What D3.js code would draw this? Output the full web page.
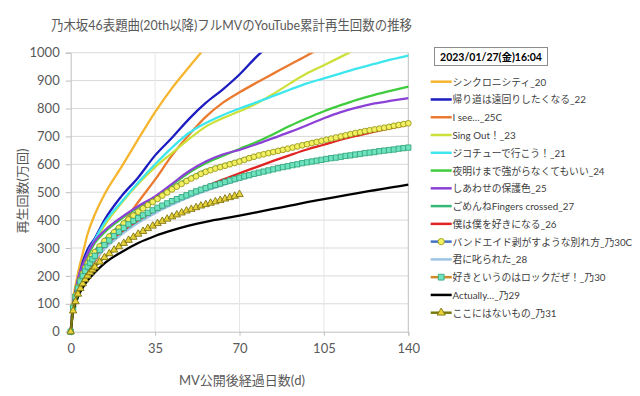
<!DOCTYPE html>
<html><head><meta charset="utf-8">
<script src="https://cdn.jsdelivr.net/npm/d3@7"></script>
<style>
body{margin:0;background:#fff;}
text{font-family:"Lato","Noto Sans CJK JP",sans-serif;}
</style></head>
<body><svg id="c" width="640" height="396"></svg>
<script>
// ---------- data ----------
const chartTitle = "乃木坂46表題曲(20th以降)フルMVのYouTube累計再生回数の推移";
const dateLabel = "2023/01/27(金)16:04";
const xTitle = "MV公開後経過日数(d)";
const yTitle = "再生回数(万回)";
const xTicks = [0, 35, 70, 105, 140];
const yTicks = [0,100,200,300,400,500,600,700,800,900,1000];

const days = [0,1,2,3,5,7,10,14,21,28,35,42,49,56,63,70,77,84,91,98,105,112,119,126,133,140];
const fineDays = [0,1,2,3,4,5,6,7,8,9,10,12,14,16,18,20,22,24,26,28,30,32,34,36,38,40,42,44,46,48,50,52,54,56,58,60,62,64,66,68,70,72,74,76,78,80,82,84,86,88,90,92,94,96,98,100,102,104,106,108,110,112,114,116,118,120,122,124,126,128,130,132,134,136,138,140];

const seriesNames = ["シンクロニシティ_20","帰り道は遠回りしたくなる_22","I see…_25C","Sing Out！_23","ジコチューで行こう！_21","夜明けまで強がらなくてもいい_24","しあわせの保護色_25","ごめんねFingers crossed_27","僕は僕を好きになる_26","バンドエイド剥がすような別れ方_乃30C","君に叱られた_28","好きというのはロックだぜ！_乃30","Actually…_乃29","ここにはないもの_乃31"];

const sync20     = [0,115,165,210,280,350,420,492,590,690,787,873,948,1020];
const kaeri22    = [0,100,145,180,250,295,335,400,485,553,632,695,762,820,868,922,985,1040];
const isee25C    = [0,70,105,130,170,205,250,300,380,465,545,632,705,770,820,858,892,925,958,990,1025];
const singout23  = [0,90,135,170,225,270,320,380,460,530,590,640,690,735,765,790,818,852,890,926,955,985,1015];
const jiko21     = [0,95,140,175,235,280,330,390,465,535,600,660,712,748,776,800,822,845,868,890,908,926,944,960,976,990];
const yoake24    = [0,95,140,182,232,272,318,356,405,446,482,526,570,604,630,655,680,708,738,765,790,812,832,849,864,878];
const shiawase25 = [0,100,145,190,240,280,325,362,410,450,485,530,575,610,635,652,672,694,716,740,765,787,804,818,828,837];
const fingers27  = [0,92,134,166,214,250,290,330,386,436,476,516,551,579,598,616,634,647,661,676,690,704,717,729,740,751];
const boku26     = [0,85,125,155,195,228,265,305,355,395,430,462,492,520,545,568,590,612,633,653,670,688,703,717,730,742];
const kimini28   = [0,80,118,148,190,222,258,296,348,390,425,455,482,505,525,544,562,578,592,605,616,627,636,644,651,657];
const actually29 = [0,72,102,125,158,183,212,245,285,318,343,363,380,394,405,416,428,440,452,464,475,486,497,507,517,527];

const bandaid30C = [0,90,130,160,185,208,228,245,260,273,285,306,325,341,356,372,388,402,416,430,442,454,465,476,488,499,510,520,530,540,549,557,566,573,579,585,590,595,600,605,610,616,622,627,632,636,640,644,648,652,656,660,664,668,672,676,680,684,688,692,696,700,704,708,712,715,719,722,725,728,731,734,738,741,744,747];
const rock30     = [0,85,125,155,180,200,218,233,247,260,272,293,311,327,343,358,372,385,397,407,417,426,435,444,452,460,468,475,482,489,496,503,509,515,521,526,531,537,542,547,552,557,561,566,570,574,578,582,586,590,593,597,600,604,607,610,613,616,619,622,624,627,630,632,635,637,640,642,644,647,649,651,653,656,658,660];
const koko31     = [0,75,108,135,155,172,187,200,212,222,232,250,266,280,293,305,317,328,339,350,360,370,379,388,396,404,412,419,426,433,439,445,451,456,461,466,471,476,481,486,492];

const lineColors = ["#F5B52E","#1C1CC0","#EA7A30","#CDE03A","#3EE6EE","#3ECC3E","#8C42D6","#35B878","#E02424","#4472C4","#9DC3E6","#D08A2A","#000000","#7A7A10"];

// ---------- build ----------
const seriesData = [
  {v:sync20, d:days}, {v:kaeri22, d:days}, {v:isee25C, d:days}, {v:singout23, d:days},
  {v:jiko21, d:days}, {v:yoake24, d:days}, {v:shiawase25, d:days}, {v:fingers27, d:days},
  {v:boku26, d:days}, {v:bandaid30C, d:fineDays, m:"circle"}, {v:kimini28, d:days},
  {v:rock30, d:fineDays, m:"square"}, {v:actually29, d:days}, {v:koko31, d:fineDays, m:"triangle"}
].map((s,i)=>({name:seriesNames[i], color:lineColors[i], marker:s.m,
   pts:s.v.map((val,j)=>({x:s.d[j], y:val}))}));

const markerStyle = {
  circle:  {type:d3.symbolCircle,  size:26, fill:"#F2F060", stroke:"#9A9A1E"},
  square:  {type:d3.symbolSquare,  size:28, fill:"#6FE2C0", stroke:"#35A87E"},
  triangle:{type:d3.symbolTriangle,size:24, fill:"#E8D23A", stroke:"#7F7410"}
};

const svg = d3.select("#c");
const x = d3.scaleLinear().domain([0,140]).range([70.7,408.3]);
const y = d3.scaleLinear().domain([0,1000]).range([331.7,52.7]);

// title
svg.append("text").attr("x",51).attr("y",25).attr("dominant-baseline","central")
  .attr("font-size",13.2).attr("fill","#595959")
  .attr("textLength",361).attr("lengthAdjust","spacingAndGlyphs").text(chartTitle);

// grid
const g = svg.append("g");
g.selectAll(".hg").data(yTicks.filter(t=>t>0)).join("line")
  .attr("x1",x(0)).attr("x2",x(140)).attr("y1",d=>y(d)).attr("y2",d=>y(d))
  .attr("stroke","#D9D9D9").attr("stroke-width",1);
g.selectAll(".vg").data(xTicks.filter(t=>t>0)).join("line")
  .attr("x1",d=>x(d)).attr("x2",d=>x(d)).attr("y1",y(0)).attr("y2",y(1000))
  .attr("stroke",(d)=>d===140?"#BFBFBF":"#E6E6E6").attr("stroke-width",1);

// axes
const yAxis = svg.append("g").attr("transform",`translate(${x(0)},0)`)
  .call(d3.axisLeft(y).tickValues(yTicks).tickFormat(d3.format("d")).tickSize(5).tickPadding(6));
const xAxis = svg.append("g").attr("transform",`translate(0,${y(0)})`)
  .call(d3.axisBottom(x).tickValues(xTicks).tickFormat(d3.format("d")).tickSize(4).tickPadding(8.5));
[yAxis,xAxis].forEach(a=>{
  a.select(".domain").attr("stroke","#BFBFBF");
  a.selectAll(".tick line").attr("stroke","#BFBFBF");
  a.selectAll("text").attr("font-size",13).attr("fill","#595959")
   .style("font-family","Lato,'Noto Sans CJK JP',sans-serif");
});
xAxis.selectAll(".tick").filter(d=>d===0).select("line").remove();

// axis titles
svg.append("text").attr("x",242).attr("y",380).attr("text-anchor","middle")
  .attr("dominant-baseline","central").attr("font-size",13).attr("fill","#595959").text(xTitle);
svg.append("text").attr("transform","translate(22,191) rotate(-90)").attr("text-anchor","middle")
  .attr("dominant-baseline","central").attr("font-size",13).attr("fill","#595959").text(yTitle);

// clip
svg.append("defs").append("clipPath").attr("id","pc").append("rect")
  .attr("x",x(0)-4).attr("y",y(1000)).attr("width",x(140)-x(0)+10).attr("height",y(0)-y(1000)+6);

const plot = svg.append("g").attr("clip-path","url(#pc)");
const line = d3.line().x(d=>x(d.x)).y(d=>y(d.y)).curve(d3.curveMonotoneX);

seriesData.forEach(s=>{
  const sg = plot.append("g");
  sg.append("path").attr("d",line(s.pts)).attr("fill","none")
    .attr("stroke",s.color).attr("stroke-width",2.3).attr("stroke-linejoin","round");
  if(s.marker){
    const ms = markerStyle[s.marker];
    const sym = d3.symbol().type(ms.type).size(ms.size);
    sg.selectAll("path.m").data(s.pts).join("path").attr("class","m")
      .attr("transform",d=>`translate(${x(d.x)},${y(d.y)})`).attr("d",sym())
      .attr("fill",ms.fill).attr("stroke",ms.stroke).attr("stroke-width",0.9);
  }
});

// legend
svg.append("rect").attr("x",434.5).attr("y",47.5).attr("width",113).attr("height",18)
  .attr("fill","#fff").attr("stroke","#8C8C8C").attr("stroke-width",1);
svg.append("text").attr("x",491).attr("y",57).attr("text-anchor","middle")
  .attr("dominant-baseline","central").attr("font-size",10.5).attr("font-weight","bold")
  .attr("fill","#000").text(dateLabel);

const leg = svg.append("g");
seriesData.forEach((s,i)=>{
  const ly = 81.7 + i*17.77;
  leg.append("line").attr("x1",430.7).attr("x2",451.7).attr("y1",ly).attr("y2",ly)
    .attr("stroke",s.color).attr("stroke-width",2.5);
  if(s.marker){
    const ms = markerStyle[s.marker];
    leg.append("path").attr("transform",`translate(441.2,${ly})`)
      .attr("d",d3.symbol().type(ms.type).size(ms.size*1.2)())
      .attr("fill",ms.fill).attr("stroke",ms.stroke).attr("stroke-width",0.9);
  }
  leg.append("text").attr("x",452.5).attr("y",ly).attr("dominant-baseline","central")
    .attr("font-size",9.8).attr("fill","#404040").text(s.name);
});
</script></body></html>
